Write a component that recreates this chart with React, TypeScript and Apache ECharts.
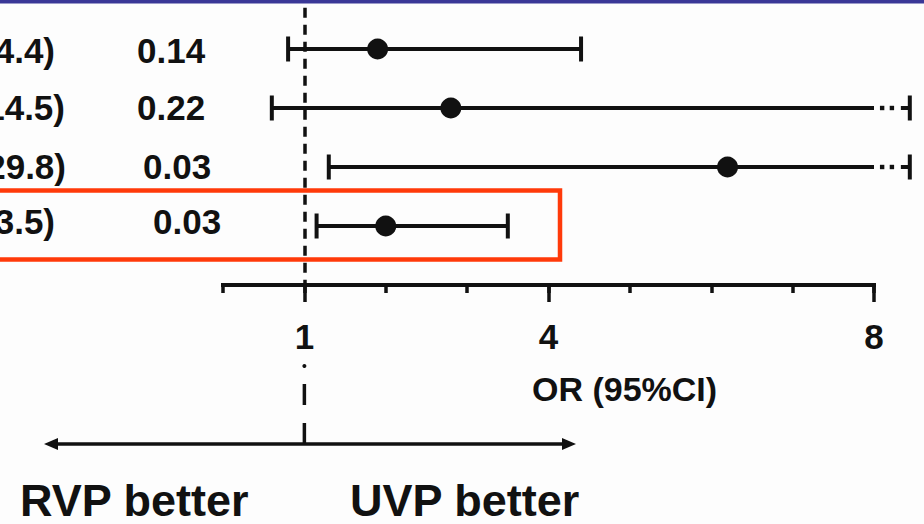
import React, { useEffect, useRef } from "react";
import * as echarts from "echarts";

// ---- data ----
const rows = [1, 2, 3, 4];
const oddsRatios = [1.9, 2.8, 6.2, 2.0];
const lowerCI = [0.8, 0.6, 1.3, 1.15];
const upperCI = [4.4, 14.5, 29.8, 3.5];
const ciLabels = ["4.4)", "14.5)", "29.8)", "3.5)"];
const pValues = ["0.14", "0.22", "0.03", "0.03"];
const xTickValues = [0, 1, 2, 3, 4, 5, 6, 7, 8];
const xLabelValues = [1, 4, 8];
const axisTitle = "OR (95%CI)";
const leftNote = "RVP better";
const rightNote = "UVP better";
const highlightRow = 4;

// ---- styling / layout constants ----
const X_MIN = 0;
const X_MAX = 8;
const FONT = "'Liberation Sans', Arial, Helvetica, sans-serif";
const INK = "#111111";
const ciLabelRight = [55, 65, 66, 55];
const pLabelLeft = [137, 137, 143, 153];
const textDy = [1, -1, -1, -5];

export default function App() {
  const ref = useRef<HTMLDivElement>(null);

  useEffect(() => {
    if (!ref.current) return;
    const chart = echarts.init(ref.current, undefined, { renderer: "svg" });

    const data = rows.map((r, i) => [r, lowerCI[i], oddsRatios[i], upperCI[i]]);

    const option: any = {
      animation: false,
      backgroundColor: "#fdfdfd",
      grid: { left: 223, right: 50, top: 7.7, bottom: 239, containLabel: false },
      xAxis: [
        {
          type: "value",
          min: X_MIN,
          max: X_MAX,
          interval: 1,
          position: "bottom",
          splitLine: { show: false },
          axisLine: { show: true, lineStyle: { color: INK, width: 4, cap: "square" } },
          axisTick: {
            show: true,
            customValues: xTickValues,
            length: 8,
            lineStyle: { color: INK, width: 3.5 },
          },
          axisLabel: { show: false },
        },
        {
          type: "value",
          min: X_MIN,
          max: X_MAX,
          interval: 1,
          position: "bottom",
          splitLine: { show: false },
          axisLine: { show: false },
          axisTick: {
            show: true,
            customValues: xLabelValues,
            length: 17,
            lineStyle: { color: INK, width: 3.5 },
          },
          axisLabel: {
            show: true,
            customValues: xLabelValues,
            margin: 34,
            color: INK,
            fontFamily: FONT,
            fontWeight: "bold",
            fontSize: 35,
          },
        },
      ],
      yAxis: {
        type: "value",
        min: 0.3,
        max: 5,
        inverse: true,
        show: false,
        splitLine: { show: false },
      },
      series: [
        {
          type: "custom",
          xAxisIndex: 0,
          yAxisIndex: 0,
          clip: false,
          data,
          renderItem: (params: any, api: any) => {
            const i = params.dataIndex;
            const row = api.value(0);
            const lo = api.value(1);
            const or = api.value(2);
            const hi = api.value(3);
            const y = api.coord([X_MIN, row])[1];
            const px = (v: number) => api.coord([v, row])[0];
            const lw = 4;
            const capH = 12.5;
            const stroke = { stroke: INK, lineWidth: lw };
            const children: any[] = [];
            const solidEnd = Math.min(hi, X_MAX);
            children.push({
              type: "line",
              shape: { x1: px(lo), y1: y, x2: px(solidEnd), y2: y },
              style: stroke,
            });
            let capX: number;
            if (hi > X_MAX) {
              [X_MAX + 0.1, X_MAX + 0.22].forEach((v) =>
                children.push({
                  type: "rect",
                  shape: { x: px(v) - 2.2, y: y - 2.2, width: 4.4, height: 4.4 },
                  style: { fill: INK },
                })
              );
              children.push({
                type: "line",
                shape: { x1: px(X_MAX + 0.33), y1: y, x2: px(X_MAX + 0.44), y2: y },
                style: stroke,
              });
              capX = px(X_MAX + 0.44);
            } else {
              capX = px(hi);
            }
            [px(lo), capX].forEach((cx) =>
              children.push({
                type: "line",
                shape: { x1: cx, y1: y - capH, x2: cx, y2: y + capH },
                style: stroke,
              })
            );
            children.push({
              type: "circle",
              shape: { cx: px(or), cy: y, r: 10.5 },
              style: { fill: INK },
            });
            children.push({
              type: "text",
              x: ciLabelRight[i],
              y: y + textDy[i],
              style: {
                text: ciLabels[i],
                fill: INK,
                font: `bold 35px ${FONT}`,
                align: "right",
                verticalAlign: "middle",
              },
            });
            children.push({
              type: "text",
              x: pLabelLeft[i],
              y: y + textDy[i],
              style: {
                text: pValues[i],
                fill: INK,
                font: `bold 35px ${FONT}`,
                align: "left",
                verticalAlign: "middle",
              },
            });
            return { type: "group", children };
          },
          markLine: {
            silent: true,
            symbol: ["none", "none"],
            label: { show: false },
            lineStyle: { color: INK, width: 3.5, type: [10, 7] },
            data: [{ xAxis: 1 }],
          },
        },
      ],
    };

    chart.setOption(option);

    // Positions derived from the chart's own scales
    const refX = chart.convertToPixel({ xAxisIndex: 0 }, 1) as number;
    const rowY = chart.convertToPixel({ yAxisIndex: 0 }, highlightRow) as number;
    const axisY = chart.convertToPixel({ yAxisIndex: 0 }, 5) as number;
    const arrowY = 444;

    const graphic: any[] = [
      {
        type: "rect",
        shape: { x: 0, y: 0, width: 924, height: 3.5 },
        style: { fill: "#3a3897" },
        z: 100,
      },
      {
        type: "rect",
        shape: { x: -10, y: rowY - 35.5, width: 570, height: 69 },
        style: { fill: "none", stroke: "#ff3a0a", lineWidth: 4.5 },
        z: 100,
      },
      // dash-dot continuation of the reference line below the axis
      {
        type: "circle",
        shape: { cx: refX, cy: axisY + 81, r: 2 },
        style: { fill: INK },
      },
      {
        type: "line",
        shape: { x1: refX, y1: axisY + 99, x2: refX, y2: axisY + 120 },
        style: { stroke: INK, lineWidth: 3.5 },
      },
      {
        type: "line",
        shape: { x1: refX, y1: axisY + 138, x2: refX, y2: arrowY },
        style: { stroke: INK, lineWidth: 3.5 },
      },
      // double-headed arrow
      {
        type: "line",
        shape: { x1: 52, y1: arrowY, x2: 568, y2: arrowY },
        style: { stroke: INK, lineWidth: 3.5 },
      },
      {
        type: "polygon",
        shape: { points: [[44, arrowY], [58, arrowY - 6], [58, arrowY + 6]] },
        style: { fill: INK },
      },
      {
        type: "polygon",
        shape: { points: [[576, arrowY], [562, arrowY - 6], [562, arrowY + 6]] },
        style: { fill: INK },
      },
      {
        type: "text",
        x: 532,
        y: 389,
        style: {
          text: axisTitle,
          fill: INK,
          font: `bold 34px ${FONT}`,
          align: "left",
          verticalAlign: "middle",
        },
      },
      {
        type: "text",
        x: 20,
        y: 500,
        style: {
          text: leftNote,
          fill: INK,
          font: `bold 45px ${FONT}`,
          align: "left",
          verticalAlign: "middle",
        },
      },
      {
        type: "text",
        x: 350,
        y: 500,
        style: {
          text: rightNote,
          fill: INK,
          font: `bold 45px ${FONT}`,
          align: "left",
          verticalAlign: "middle",
        },
      },
    ];

    chart.setOption({ graphic });

    return () => chart.dispose();
  }, []);

  return (
    <div
      ref={ref}
      style={{ position: "fixed", left: 0, top: 0, width: 924, height: 524 }}
    />
  );
}
